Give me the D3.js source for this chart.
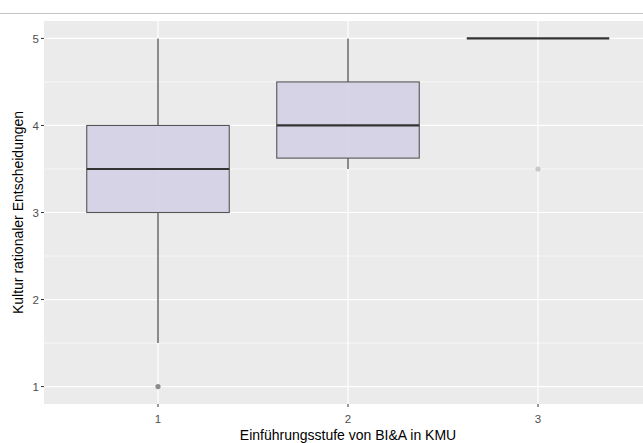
<!DOCTYPE html>
<html>
<head>
<meta charset="utf-8">
<script src="https://cdn.jsdelivr.net/npm/d3@7"></script>
<style>
  body { margin: 0; background: #fff; overflow: hidden; }
  text { font-family: "Liberation Sans", Arial, sans-serif; }
</style>
</head>
<body>
<div id="chart"></div>
<script>
const width = 643
const height = 443

// Daten
const groups = ["1", "2", "3"]
const lowerWhisker = [1.5, 3.5, 5]
const q1 = [3, 3.625, 5]
const median = [3.5, 4, 5]
const q3 = [4, 4.5, 5]
const upperWhisker = [5, 5, 5]
const outliers = [[1], [], [3.5]]
const outlierColor = ["#8c8c8c", "#c8c8c8"]
const yTicks = [1, 2, 3, 4, 5]
const yMinor = [1.5, 2.5, 3.5, 4.5]

const panel = { left: 44, top: 21, right: 652, bottom: 404 }

let svg = d3.select("#chart")
  .append("svg")
  .attr("width", width)
  .attr("height", height)

// Linie oben
svg.append("line")
  .attr("x1", 0).attr("x2", width)
  .attr("y1", 13.5).attr("y2", 13.5)
  .style("stroke", "#c4c4c4")
  .style("stroke-width", 1.2)

const x = d3.scaleLinear().domain([0.4, 3.6]).range([panel.left, panel.right])
const y = d3.scaleLinear().domain([0.8, 5.2]).range([panel.bottom, panel.top])

// Hintergrund
svg.append("rect")
  .attr("x", panel.left).attr("y", panel.top)
  .attr("width", panel.right - panel.left)
  .attr("height", panel.bottom - panel.top)
  .style("fill", "#ebebeb")

// Gitter
svg.selectAll(".minor")
  .data(yMinor)
  .enter().append("line")
  .attr("x1", panel.left).attr("x2", panel.right)
  .attr("y1", d => y(d)).attr("y2", d => y(d))
  .style("stroke", "#fff").style("stroke-width", 0.6)

svg.selectAll(".major")
  .data(yTicks)
  .enter().append("line")
  .attr("x1", panel.left).attr("x2", panel.right)
  .attr("y1", d => y(d)).attr("y2", d => y(d))
  .style("stroke", "#fff").style("stroke-width", 1.2)

svg.selectAll(".vmajor")
  .data(groups)
  .enter().append("line")
  .attr("x1", (d, i) => x(i + 1)).attr("x2", (d, i) => x(i + 1))
  .attr("y1", panel.top).attr("y2", panel.bottom)
  .style("stroke", "#fff").style("stroke-width", 1.2)

const boxW = 0.75
const boxColor = "#d3cfe6"
const lineColor = "#333"

groups.forEach((g, i) => {
  const cx = x(i + 1)
  const x0 = x(i + 1 - boxW / 2)
  const x1 = x(i + 1 + boxW / 2)

  // Whisker
  svg.append("line")
    .attr("x1", cx).attr("x2", cx)
    .attr("y1", y(upperWhisker[i])).attr("y2", y(q3[i]))
    .style("stroke", lineColor).style("stroke-width", 1.1)
  svg.append("line")
    .attr("x1", cx).attr("x2", cx)
    .attr("y1", y(q1[i])).attr("y2", y(lowerWhisker[i]))
    .style("stroke", lineColor).style("stroke-width", 1.1)

  // Box
  if (q3[i] > q1[i]) {
    svg.append("rect")
      .attr("x", x0).attr("y", y(q3[i]))
      .attr("width", x1 - x0)
      .attr("height", y(q1[i]) - y(q3[i]))
      .style("fill", boxColor)
      .style("fill-opacity", 0.85)
      .style("stroke", "#555")
      .style("stroke-width", 1.1)
  }

  // Median
  svg.append("line")
    .attr("x1", x0).attr("x2", x1)
    .attr("y1", y(median[i])).attr("y2", y(median[i]))
    .style("stroke", lineColor).style("stroke-width", 2.2)

  // Ausreisser
  svg.selectAll(".out" + i)
    .data(outliers[i])
    .enter().append("circle")
    .attr("cx", cx).attr("cy", d => y(d))
    .attr("r", 2.6)
    .style("fill", outlierColor[i === 0 ? 0 : 1])
})

// Achsen-Ticks
svg.selectAll(".ytick")
  .data(yTicks)
  .enter().append("line")
  .attr("x1", panel.left - 3).attr("x2", panel.left)
  .attr("y1", d => y(d)).attr("y2", d => y(d))
  .style("stroke", "#333").style("stroke-width", 1)

svg.selectAll(".ylab")
  .data(yTicks)
  .enter().append("text")
  .attr("x", panel.left - 5).attr("y", d => y(d) + 0.5)
  .attr("dy", "0.35em")
  .attr("text-anchor", "end")
  .style("font-size", "11.5px").style("fill", "#4d4d4d")
  .text(d => d)

svg.selectAll(".xtick")
  .data(groups)
  .enter().append("line")
  .attr("x1", (d, i) => x(i + 1)).attr("x2", (d, i) => x(i + 1))
  .attr("y1", panel.bottom).attr("y2", panel.bottom + 3)
  .style("stroke", "#333").style("stroke-width", 1)

svg.selectAll(".xlab")
  .data(groups)
  .enter().append("text")
  .attr("x", (d, i) => x(i + 1)).attr("y", panel.bottom + 15)
  .attr("dy", "0.35em")
  .attr("text-anchor", "middle")
  .style("font-size", "11.5px").style("fill", "#4d4d4d")
  .text(d => d)

// Titel
svg.append("text")
  .attr("x", (panel.left + panel.right) / 2).attr("y", 440)
  .attr("text-anchor", "middle")
  .style("font-size", "14px").style("fill", "#000")
  .text("Einführungsstufe von BI&A in KMU")

svg.append("text")
  .attr("transform", `translate(18,${(panel.top + panel.bottom) / 2}) rotate(-90)`)
  .attr("dy", "0.35em")
  .attr("text-anchor", "middle")
  .style("font-size", "14px").style("fill", "#000")
  .text("Kultur rationaler Entscheidungen")
</script>
</body>
</html>
